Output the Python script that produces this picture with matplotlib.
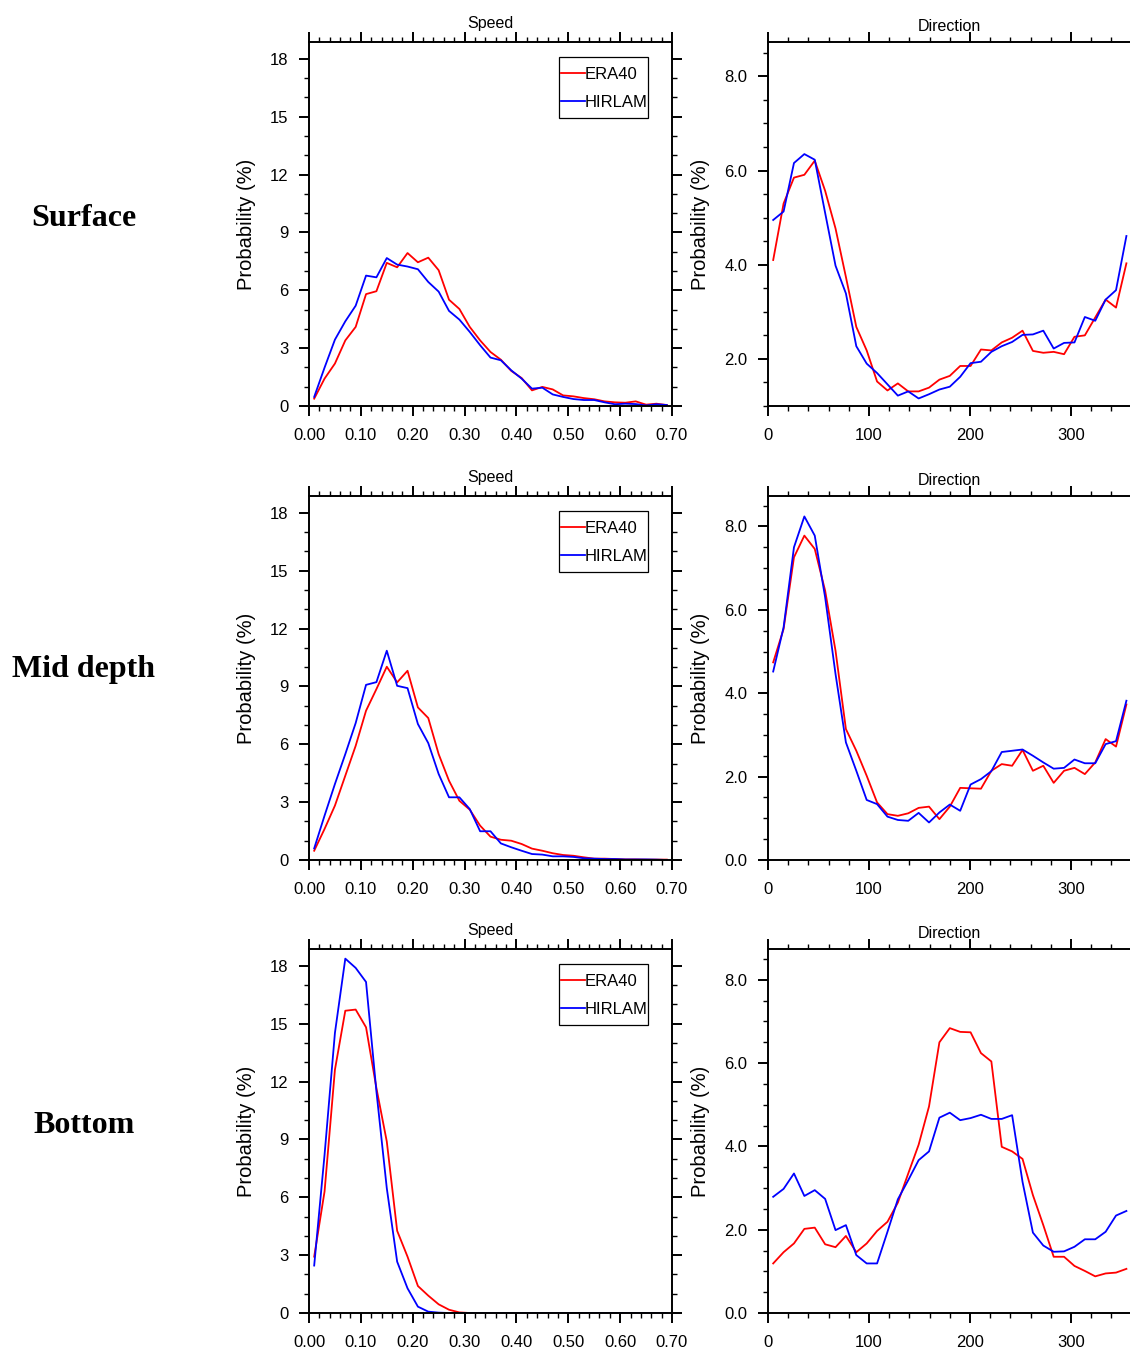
import matplotlib
matplotlib.use("Agg")
import matplotlib.pyplot as plt
from matplotlib.ticker import MultipleLocator, FixedLocator, FormatStrFormatter
from matplotlib.lines import Line2D
from matplotlib.patches import Rectangle

plt.rcParams['font.family'] = ['Liberation Sans', 'DejaVu Sans']

# ---------------- data ----------------
speed_bins = [0.01, 0.03, 0.05, 0.07, 0.09, 0.11, 0.13, 0.15, 0.17, 0.19,
              0.21, 0.23, 0.25, 0.27, 0.29, 0.31, 0.33, 0.35, 0.37, 0.39,
              0.41, 0.43, 0.45, 0.47, 0.49, 0.51, 0.53, 0.55, 0.57, 0.59,
              0.61, 0.63, 0.65, 0.67, 0.69]
dir_bins = [5.14, 15.43, 25.71, 36.0, 46.29, 56.57, 66.86, 77.14, 87.43, 97.71,
            108.0, 118.29, 128.57, 138.86, 149.14, 159.43, 169.71, 180.0, 190.29, 200.57,
            210.86, 221.14, 231.43, 241.71, 252.0, 262.29, 272.57, 282.86, 293.14, 303.43,
            313.71, 324.0, 334.29, 344.57, 354.86]

rows = ["Surface", "Mid depth", "Bottom"]
series_names = ["ERA40", "HIRLAM"]

surf_speed_era = [0.38, 1.42, 2.2, 3.4, 4.1, 5.8, 5.95, 7.42, 7.19, 7.93,
                  7.45, 7.69, 7.04, 5.51, 5.03, 4.1, 3.4, 2.8, 2.4, 1.82,
                  1.45, 0.81, 0.99, 0.86, 0.55, 0.5, 0.41, 0.35, 0.24, 0.19,
                  0.17, 0.24, 0.07, 0.12, 0.05]
surf_speed_hir = [0.47, 1.99, 3.44, 4.39, 5.2, 6.76, 6.67, 7.67, 7.33, 7.23,
                  7.09, 6.43, 5.93, 4.93, 4.48, 3.84, 3.15, 2.51, 2.37, 1.85,
                  1.42, 0.9, 0.95, 0.6, 0.47, 0.36, 0.31, 0.31, 0.19, 0.09,
                  0.12, 0.1, 0.03, 0.09, 0.05]
surf_dir_era = [4.10, 5.30, 5.85, 5.91, 6.21, 5.57, 4.77, 3.74, 2.68, 2.18,
                1.52, 1.33, 1.48, 1.31, 1.31, 1.39, 1.56, 1.64, 1.85, 1.85,
                2.20, 2.18, 2.35, 2.45, 2.60, 2.17, 2.13, 2.15, 2.10, 2.47,
                2.50, 2.88, 3.26, 3.09, 4.03]
surf_dir_hir = [4.95, 5.13, 6.16, 6.35, 6.23, 5.10, 3.98, 3.39, 2.27, 1.90,
                1.70, 1.46, 1.22, 1.31, 1.16, 1.25, 1.35, 1.41, 1.62, 1.91,
                1.94, 2.15, 2.27, 2.36, 2.51, 2.52, 2.60, 2.22, 2.34, 2.35,
                2.89, 2.81, 3.26, 3.46, 4.61]

mid_speed_era = [0.48, 1.61, 2.82, 4.37, 5.92, 7.74, 8.86, 10.02, 9.21, 9.81,
                 7.91, 7.36, 5.49, 4.11, 3.07, 2.61, 1.78, 1.21, 1.05, 1.0,
                 0.83, 0.59, 0.48, 0.35, 0.26, 0.22, 0.14, 0.07, 0.07, 0.05,
                 0.03, 0.03, 0.02, 0.02, 0.02]
mid_speed_hir = [0.6, 2.3, 3.94, 5.49, 7.10, 9.08, 9.22, 10.85, 9.03, 8.91,
                 7.05, 6.06, 4.46, 3.25, 3.25, 2.64, 1.49, 1.49, 0.86, 0.66,
                 0.48, 0.31, 0.28, 0.19, 0.19, 0.16, 0.09, 0.07, 0.05, 0.05,
                 0.03, 0.03, 0.03, 0.02, 0.0]
mid_dir_era = [4.74, 5.54, 7.26, 7.78, 7.46, 6.46, 5.02, 3.14, 2.62, 2.02,
               1.38, 1.10, 1.06, 1.12, 1.25, 1.28, 0.98, 1.28, 1.73, 1.72,
               1.71, 2.14, 2.30, 2.26, 2.64, 2.14, 2.26, 1.85, 2.14, 2.21,
               2.06, 2.34, 2.90, 2.72, 3.73]
mid_dir_hir = [4.52, 5.58, 7.50, 8.24, 7.78, 6.30, 4.46, 2.82, 2.14, 1.44,
               1.34, 1.04, 0.96, 0.94, 1.13, 0.90, 1.14, 1.33, 1.18, 1.81,
               1.94, 2.13, 2.59, 2.62, 2.65, 2.50, 2.34, 2.19, 2.21, 2.41,
               2.32, 2.32, 2.78, 2.85, 3.82]

bot_speed_era = [2.92, 6.30, 12.61, 15.67, 15.73, 14.81, 11.66, 8.89, 4.26, 2.92,
                 1.40, 0.90, 0.45, 0.17, 0.03, 0.0, 0.0, 0.0, 0.0, 0.0,
                 0.0, 0.0, 0.0, 0.0, 0.0, 0.0, 0.0, 0.0, 0.0, 0.0,
                 0.0, 0.0, 0.0, 0.0, 0.0]
bot_speed_hir = [2.46, 8.20, 14.52, 18.37, 17.89, 17.16, 11.49, 6.47, 2.66, 1.28,
                 0.33, 0.07, 0.02, 0.0, 0.0, 0.0, 0.0, 0.0, 0.0, 0.0,
                 0.0, 0.0, 0.0, 0.0, 0.0, 0.0, 0.0, 0.0, 0.0, 0.0,
                 0.0, 0.0, 0.0, 0.0, 0.0]
bot_dir_era = [1.19, 1.46, 1.67, 2.02, 2.05, 1.65, 1.58, 1.85, 1.46, 1.67,
               1.97, 2.19, 2.65, 3.35, 4.04, 4.96, 6.50, 6.84, 6.75, 6.74,
               6.24, 6.04, 3.99, 3.88, 3.70, 2.83, 2.11, 1.35, 1.35, 1.13,
               1.01, 0.88, 0.95, 0.97, 1.06]
bot_dir_hir = [2.79, 2.98, 3.35, 2.81, 2.95, 2.74, 1.99, 2.11, 1.39, 1.19,
               1.19, 1.95, 2.73, 3.19, 3.67, 3.88, 4.69, 4.81, 4.63, 4.68,
               4.76, 4.66, 4.66, 4.75, 3.15, 1.93, 1.62, 1.47, 1.48, 1.59,
               1.77, 1.77, 1.95, 2.34, 2.45]

speed_data = [(surf_speed_era, surf_speed_hir),
              (mid_speed_era, mid_speed_hir),
              (bot_speed_era, bot_speed_hir)]
dir_data = [(surf_dir_era, surf_dir_hir),
            (mid_dir_era, mid_dir_hir),
            (bot_dir_era, bot_dir_hir)]

speed_yticks = [0, 3, 6, 9, 12, 15, 18]
speed_xticks = [0.0, 0.1, 0.2, 0.3, 0.4, 0.5, 0.6, 0.7]
speed_xlabels = ["0.00", "0.10", "0.20", "0.30", "0.40", "0.50", "0.60", "0.70"]
dir_xticks = [0, 100, 200, 300]
dir_ylims = [(1.0, 8.73), (0.0, 8.73), (0.0, 8.74)]
dir_yticks = [[2.0, 4.0, 6.0, 8.0], [0.0, 2.0, 4.0, 6.0, 8.0], [0.0, 2.0, 4.0, 6.0, 8.0]]

# ---------------- layout (pixels) ----------------
W, H = 1130, 1349
fig = plt.figure(figsize=(W / 100, H / 100), dpi=100)

row_tops = [42, 496, 949]
ax_h = 364
speed_left, ax_w = 309, 363
dir_left, dir_w = 768, 363.6
row_label_baselines = [226, 677, 1133]

colors = ["#ff0000", "#0000ff"]
LW = 1.3


def frac_rect(left, top, w, h):
    return [left / W, 1 - (top + h) / H, w / W, h / H]


def style_axes(ax):
    for s in ax.spines.values():
        s.set_linewidth(1.4)
        s.set_zorder(4)
    ax.tick_params(which="both", direction="out", top=True, right=True,
                   labeltop=False, labelright=False, labelsize=12)
    ax.tick_params(which="major", length=7, width=1.4)
    ax.tick_params(which="minor", length=3.5, width=1.0)
    ax.tick_params(axis="x", which="major", pad=8.5)
    ax.tick_params(axis="y", which="major", pad=8)


for r in range(3):
    top = row_tops[r]
    # ---- Speed panel ----
    ax = fig.add_axes(frac_rect(speed_left, top, ax_w, ax_h))
    era, hir = speed_data[r]
    ax.plot(speed_bins, era, color=colors[0], lw=LW, zorder=2)
    ax.plot(speed_bins, hir, color=colors[1], lw=LW, zorder=2)
    ax.set_xlim(0, 0.70)
    ax.set_ylim(0, 18.87)
    ax.xaxis.set_major_locator(FixedLocator(speed_xticks))
    ax.set_xticklabels(speed_xlabels)
    ax.xaxis.set_minor_locator(MultipleLocator(0.02))
    ax.yaxis.set_major_locator(FixedLocator(speed_yticks))
    ax.yaxis.set_minor_locator(MultipleLocator(1))
    style_axes(ax)
    ax.text(0.5, 1 + 14 / ax_h, "Speed", transform=ax.transAxes,
            ha="center", va="baseline", fontsize=11.5)
    ax.text((247 - speed_left) / ax_w, 0.5, "Probability (%)", rotation=90,
            transform=ax.transAxes, ha="center", va="center", fontsize=14.5)
    # legend
    lx0, lx1 = (559.3 - speed_left) / ax_w, (647.7 - speed_left) / ax_w
    ly_top = 1 - 14.8 / ax_h
    ly_bot = 1 - 75.5 / ax_h
    ax.add_patch(Rectangle((lx0, ly_bot), lx1 - lx0, ly_top - ly_bot,
                           transform=ax.transAxes, fill=False,
                           edgecolor="black", lw=0.9, zorder=5))
    for k, name in enumerate(series_names):
        yl = 1 - (30.7 + 28 * k) / ax_h
        ax.add_line(Line2D([(561 - speed_left) / ax_w, (585 - speed_left) / ax_w],
                           [yl, yl], transform=ax.transAxes,
                           color=colors[k], lw=LW, zorder=5))
        ax.text((585 - speed_left) / ax_w, yl, name, transform=ax.transAxes,
                ha="left", va="center_baseline", fontsize=12, zorder=6)

    # ---- Direction panel ----
    ax2 = fig.add_axes(frac_rect(dir_left, top, dir_w, ax_h))
    era, hir = dir_data[r]
    ax2.plot(dir_bins, era, color=colors[0], lw=LW, zorder=2)
    ax2.plot(dir_bins, hir, color=colors[1], lw=LW, zorder=2)
    ax2.set_xlim(0, 360)
    ax2.set_ylim(*dir_ylims[r])
    ax2.xaxis.set_major_locator(FixedLocator(dir_xticks))
    ax2.xaxis.set_minor_locator(MultipleLocator(20))
    ax2.yaxis.set_major_locator(FixedLocator(dir_yticks[r]))
    ax2.yaxis.set_major_formatter(FormatStrFormatter("%.1f"))
    ax2.yaxis.set_minor_locator(MultipleLocator(0.5))
    style_axes(ax2)
    ax2.text(0.5 * (363 / dir_w), 1 + 11 / ax_h, "Direction",
             transform=ax2.transAxes, ha="center", va="baseline", fontsize=11.5)
    ax2.text((700 - dir_left) / dir_w, 0.5, "Probability (%)", rotation=90,
             transform=ax2.transAxes, ha="center", va="center", fontsize=14.5)

    # ---- Row label ----
    fig.text(84 / W, 1 - row_label_baselines[r] / H, rows[r],
             ha="center", va="baseline", fontsize=23, fontweight="bold",
             family=["Liberation Serif", "DejaVu Serif"])

fig.savefig("out.png", dpi=100)
